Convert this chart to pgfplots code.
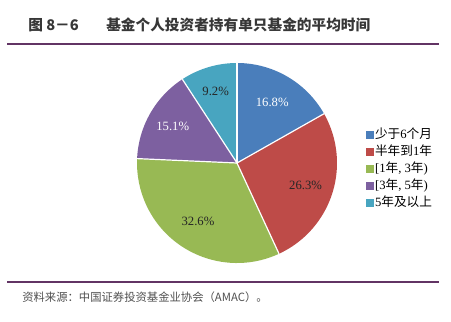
\documentclass[border=0pt]{standalone}
\usepackage{pgfplots}
\pgfplotsset{compat=1.18}
\usepackage{pgfplotstable}
\usepackage{fontspec}
\setmainfont{Liberation Serif}
\newfontfamily\cjk{Noto Sans CJK SC}
\definecolor{cA}{RGB}{74,126,187}
\definecolor{cB}{RGB}{190,75,72}
\definecolor{cC}{RGB}{152,185,84}
\definecolor{cD}{RGB}{125,96,160}
\definecolor{cE}{RGB}{72,165,192}
\definecolor{rulepurple}{RGB}{98,52,100}
\definecolor{titlegray}{RGB}{55,55,55}
\definecolor{srcgray}{RGB}{80,80,80}

\pgfplotstableread{
share
16.8
26.3
32.6
15.1
9.2
}\piedata

\begin{document}
\begin{tikzpicture}[x=0.75pt,y=0.75pt]
\path[use as bounding box, fill=white] (0,0) rectangle (451,322);
% title
\node[anchor=west, inner sep=0pt, font=\cjk\bfseries\fontsize{11}{12}\selectfont, text=titlegray] at (28,297) {图 8－6};
\node[anchor=west, inner sep=0pt, font=\cjk\bfseries\fontsize{11}{12}\selectfont, text=titlegray] at (106,297) {基金个人投资者持有单只基金的平均时间};
\draw[rulepurple, line width=1.9pt] (7,278) -- (439,278);
\draw[rulepurple, line width=1.9pt] (7,40) -- (439,40);
\node[anchor=west, inner sep=0pt, font=\cjk\fontsize{8.5}{10}\selectfont, text=srcgray] at (22,25) {资料来源：中国证券投资基金业协会（AMAC）。};
% angles from data
\pgfplotstablegetelem{0}{share}\of\piedata \pgfmathsetmacro{\sA}{\pgfplotsretval}
\pgfplotstablegetelem{1}{share}\of\piedata \pgfmathsetmacro{\sB}{\pgfplotsretval}
\pgfplotstablegetelem{2}{share}\of\piedata \pgfmathsetmacro{\sC}{\pgfplotsretval}
\pgfplotstablegetelem{3}{share}\of\piedata \pgfmathsetmacro{\sD}{\pgfplotsretval}
\pgfplotstablegetelem{4}{share}\of\piedata \pgfmathsetmacro{\sE}{\pgfplotsretval}
\pgfmathsetmacro{\aZ}{90}
\pgfmathsetmacro{\aA}{\aZ-3.6*\sA}
\pgfmathsetmacro{\aB}{\aA-3.6*\sB}
\pgfmathsetmacro{\aC}{\aB-3.6*\sC}
\pgfmathsetmacro{\aD}{\aC-3.6*\sD}
\pgfmathsetmacro{\aE}{\aD-3.6*\sE}
\pgfmathsetmacro{\mA}{(\aZ+\aA)/2}
\pgfmathsetmacro{\mB}{(\aA+\aB)/2}
\pgfmathsetmacro{\mC}{(\aB+\aC)/2}
\pgfmathsetmacro{\mD}{(\aC+\aD)/2}
\pgfmathsetmacro{\mE}{(\aD+\aE)/2}
\pgfkeys{/pgf/number format/.cd, assume math mode=true, fixed, precision=1, fixed zerofill}
\begin{axis}[
  at={(237,159)}, anchor=origin,
  hide axis, scale only axis, width=150pt, height=150pt,
  xmin=-1, xmax=1, ymin=-1, ymax=1, enlargelimits=false, clip=false,
  legend image code/.code={\fill[#1] (0pt,-2.6pt) rectangle (5.2pt,2.6pt);},
  legend cell align=left,
  legend style={at={(axis cs:1.29,0.36)}, anchor=north west, draw=none, fill=none,
    font=\fontsize{9.5}{11}\selectfont, row sep=1.6pt, inner sep=0pt,
    nodes={text height=7.2pt, text depth=2pt, inner sep=1pt}},
]
\fill[cA] (axis cs:0,0) -- (axis cs:{cos(\aZ)},{sin(\aZ)}) arc[start angle=\aZ, end angle=\aA, radius=75pt] -- cycle;
\fill[cB] (axis cs:0,0) -- (axis cs:{cos(\aA)},{sin(\aA)}) arc[start angle=\aA, end angle=\aB, radius=75pt] -- cycle;
\fill[cC] (axis cs:0,0) -- (axis cs:{cos(\aB)},{sin(\aB)}) arc[start angle=\aB, end angle=\aC, radius=75pt] -- cycle;
\fill[cD] (axis cs:0,0) -- (axis cs:{cos(\aC)},{sin(\aC)}) arc[start angle=\aC, end angle=\aD, radius=75pt] -- cycle;
\fill[cE] (axis cs:0,0) -- (axis cs:{cos(\aD)},{sin(\aD)}) arc[start angle=\aD, end angle=\aE, radius=75pt] -- cycle;
\draw[white, line width=0.9pt] (axis cs:0,0) -- (axis cs:{cos(\aZ)},{sin(\aZ)});
\draw[white, line width=0.9pt] (axis cs:0,0) -- (axis cs:{cos(\aA)},{sin(\aA)});
\draw[white, line width=0.9pt] (axis cs:0,0) -- (axis cs:{cos(\aB)},{sin(\aB)});
\draw[white, line width=0.9pt] (axis cs:0,0) -- (axis cs:{cos(\aC)},{sin(\aC)});
\draw[white, line width=0.9pt] (axis cs:0,0) -- (axis cs:{cos(\aD)},{sin(\aD)});
\node[text=white, font=\fontsize{9.5}{10}\selectfont] at (axis cs:{0.70*cos(\mA)},{0.70*sin(\mA)}) {\pgfmathprintnumber{\sA}\%};
\node[text=black!85, font=\fontsize{9.5}{10}\selectfont] at (axis cs:{0.72*cos(\mB)},{0.72*sin(\mB)}) {\pgfmathprintnumber{\sB}\%};
\node[text=black!85, font=\fontsize{9.5}{10}\selectfont] at (axis cs:{0.70*cos(\mC)},{0.70*sin(\mC)}) {\pgfmathprintnumber{\sC}\%};
\node[text=white, font=\fontsize{9.5}{10}\selectfont] at (axis cs:{0.74*cos(\mD)},{0.74*sin(\mD)}) {\pgfmathprintnumber{\sD}\%};
\node[text=black!85, font=\fontsize{9.5}{10}\selectfont] at (axis cs:{0.75*cos(\mE)},{0.75*sin(\mE)}) {\pgfmathprintnumber{\sE}\%};
\addlegendimage{cA}\addlegendentry{{\cjk 少于}6{\cjk 个月}}
\addlegendimage{cB}\addlegendentry{{\cjk 半年到}1{\cjk 年}}
\addlegendimage{cC}\addlegendentry{[1{\cjk 年}, 3{\cjk 年})}
\addlegendimage{cD}\addlegendentry{[3{\cjk 年}, 5{\cjk 年})}
\addlegendimage{cE}\addlegendentry{5{\cjk 年及以上}}
\end{axis}
\end{tikzpicture}
\end{document}
